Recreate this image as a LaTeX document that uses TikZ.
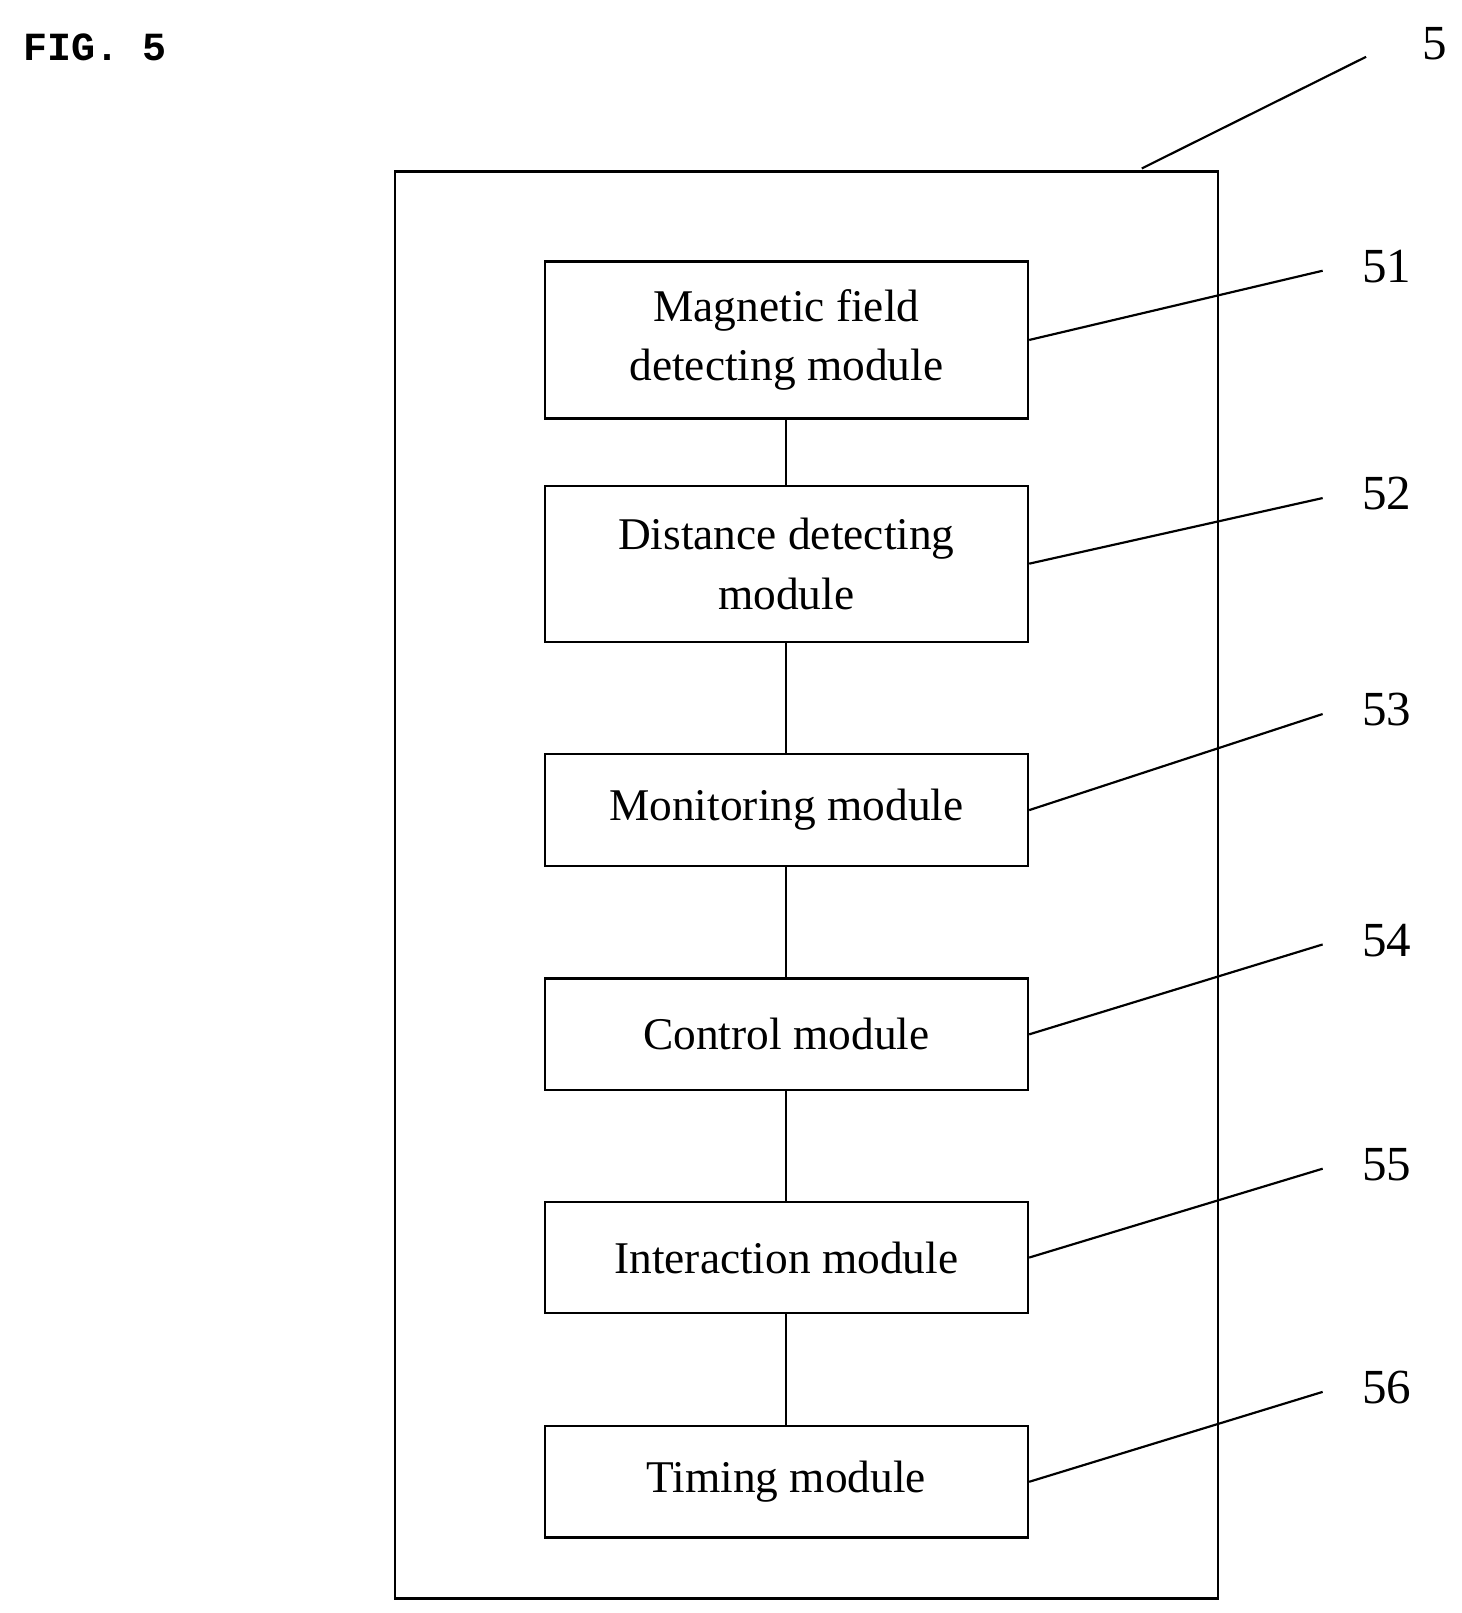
\documentclass[tikz,border=0pt]{standalone}
\usepackage{fontspec}
\setmainfont{Liberation Serif}
\setmonofont{Liberation Mono}
\usetikzlibrary{positioning}
\tikzset{
  module/.style={draw, line width=1.2pt, minimum width=9.36cm, align=center,
    font=\fontsize{25}{33}\selectfont},
  refnum/.style={font=\fontsize{27}{30}\selectfont}
}
\begin{document}
\begin{tikzpicture}[x=0.02cm, y=-0.02cm]
  \useasboundingbox (0,0) rectangle (1414,1561);
  % outer frame
  \draw[line width=1.2pt] (382,166) rectangle (1179,1547);
  \node[font=\ttfamily\bfseries\fontsize{22}{24}\selectfont] (fig) at (92,46) {FIG. 5};
  \node[refnum] (n5) at (1388,42) {5};
  \coordinate (c5) at (1105,163);
  \coordinate (e5) at (1322,55);
  \draw[line width=1.2pt] (c5) -- (e5);
  % modules
  \node[module, minimum height=3.04cm] (m1) at (761,329) {Magnetic field\\detecting module};
  \node[module, minimum height=3.02cm] (m2) at (761,545.5) {Distance detecting\\module};
  \node[module, minimum height=2.16cm] (m3) at (761,784) {Monitoring module};
  \node[module, minimum height=2.16cm] (m4) at (761,1001) {Control module};
  \node[module, minimum height=2.16cm] (m5) at (761,1217) {Interaction module};
  \node[module, minimum height=2.16cm] (m6) at (761,1434) {Timing module};
  \draw[line width=1.2pt] (m1) -- (m2) -- (m3) -- (m4) -- (m5) -- (m6);
  % reference numerals
  \foreach \i/\y in {1/258, 2/478, 3/687, 4/910, 5/1127, 6/1343} {
    \node[refnum] (n5\i) at (1342,\y) {5\i};
    \coordinate (e5\i) at (1280,\y+4);
    \draw[line width=1.2pt] (m\i.east) -- (e5\i);
  }
\end{tikzpicture}
\end{document}
